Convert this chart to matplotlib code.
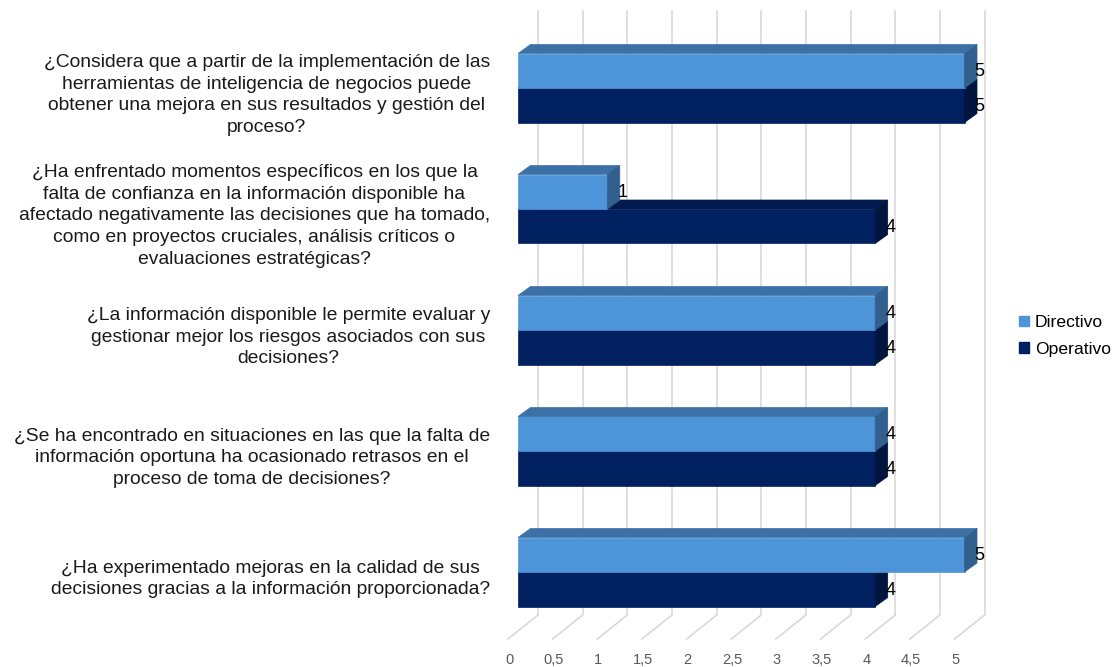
import matplotlib
matplotlib.use("Agg")
import matplotlib.pyplot as plt
from matplotlib.patches import Polygon, Patch

plt.rcParams['font.family'] = ['Liberation Sans', 'DejaVu Sans']

# ---------------- data ----------------
categories = [
    "¿Considera que a partir de la implementación de las\nherramientas de inteligencia de negocios puede\nobtener una mejora en sus resultados y gestión del\nproceso?",
    "¿Ha enfrentado momentos específicos en los que la\nfalta de confianza en la información disponible ha\nafectado negativamente las decisiones que ha tomado,\ncomo en proyectos cruciales, análisis críticos o\nevaluaciones estratégicas?",
    "¿La información disponible le permite evaluar y\ngestionar mejor los riesgos asociados con sus\ndecisiones?",
    "¿Se ha encontrado en situaciones en las que la falta de\ninformación oportuna ha ocasionado retrasos en el\nproceso de toma de decisiones?",
    "¿Ha experimentado mejoras en la calidad de sus\ndecisiones gracias a la información proporcionada?",
]
series_names = ["Directivo", "Operativo"]
directivo = [5, 1, 4, 4, 5]
operativo = [5, 4, 4, 4, 4]
x_ticks = [0, 0.5, 1, 1.5, 2, 2.5, 3, 3.5, 4, 4.5, 5]
x_tick_labels = ["0", "0,5", "1", "1,5", "2", "2,5", "3", "3,5", "4", "4,5", "5"]

# ---------------- styling / layout ----------------
W, H = 1119, 667
PX = 89.3      # pixels per value unit
X0 = 518       # pixel x of value 0 (bar front)
ROW = 121.0    # pixels per category row
R0 = 88        # pixel y of first row centre
BAR_H = 34.5   # bar height px
BDX, BDY = 12.5, 9.0   # bar depth px
WDX, WDY = 20.0, 16.0  # back wall offset from bar front
FDX, FDY = 10.0, 8.0   # front floor offset from bar front

colors = {
    "Directivo": ("#4E94D9", "#3B71A6", "#31608F"),   # front, top, side
    "Operativo": ("#00205F", "#001A4E", "#00163F"),
}

fig = plt.figure(figsize=(W / 100, H / 100), dpi=100)
ax = fig.add_axes([0, 0, 1, 1])
ax.set_xlim(-X0 / PX, (W - X0) / PX)
ax.set_ylim((H - R0) / ROW, -R0 / ROW)
ax.axis('off')

def dx(p):
    return p / PX

def dy(p):
    return p / ROW

# back wall grid & floor lines
grid_top = dy(10 - R0)
grid_bot = dy(615 - R0)
for v in x_ticks:
    xb = v + dx(WDX)
    ax.plot([xb, xb], [grid_top, grid_bot], color="#D9D9D9", lw=1.2, zorder=1,
            solid_capstyle='butt')
    xf = v - dx(FDX)
    ax.plot([xb, xf], [grid_bot, grid_bot + dy(24)], color="#D9D9D9", lw=1.2, zorder=1)

for v, lab in zip(x_ticks, x_tick_labels):
    ax.text(v - dx(9), dy(660 - R0), lab, ha='center', va='center',
            fontsize=10.5, color="#595959")

h = dy(BAR_H)
ys = list(range(len(categories)))

def draw_3d(values, offset, name, z):
    front, top, side = colors[name]
    centers = [y + offset for y in ys]
    ax.barh(centers, values, height=h, color=front, zorder=z,
            edgecolor=front, linewidth=0.5)
    for c, v in zip(centers, values):
        yt = c - h / 2
        yb = c + h / 2
        ax.add_patch(Polygon([(0, yt), (v, yt), (v + dx(BDX), yt - dy(BDY)),
                              (dx(BDX), yt - dy(BDY))], closed=True,
                             facecolor=top, edgecolor=top, lw=0.5, zorder=z))
        ax.add_patch(Polygon([(v, yt), (v + dx(BDX), yt - dy(BDY)),
                              (v + dx(BDX), yb - dy(BDY)), (v, yb)], closed=True,
                             facecolor=side, edgecolor=side, lw=0.5, zorder=z))
        ax.text(v + dx(10), c + dy(1), f"{v:g}", ha='left', va='center',
                fontsize=13, color="black", zorder=10)

draw_3d(operativo, h / 2, "Operativo", 3)
draw_3d(directivo, -h / 2, "Directivo", 4)

for y, lab in zip(ys, categories):
    ax.text(-dx(X0 - 490), y + dy(7), lab, ha='right', va='center',
            multialignment='center', fontsize=13.9, color="#1a1a1a",
            linespacing=1.37)

handles = [Patch(facecolor=colors[n][0], edgecolor=colors[n][0]) for n in series_names]
fig.legend(handles, series_names, loc='center left',
           bbox_to_anchor=(1012 / W, 1 - 336 / H), frameon=False,
           fontsize=12.6, handlelength=0.55, handleheight=0.55,
           handletextpad=0.35, labelspacing=0.65, borderaxespad=0)

fig.savefig("out.png", dpi=100)
